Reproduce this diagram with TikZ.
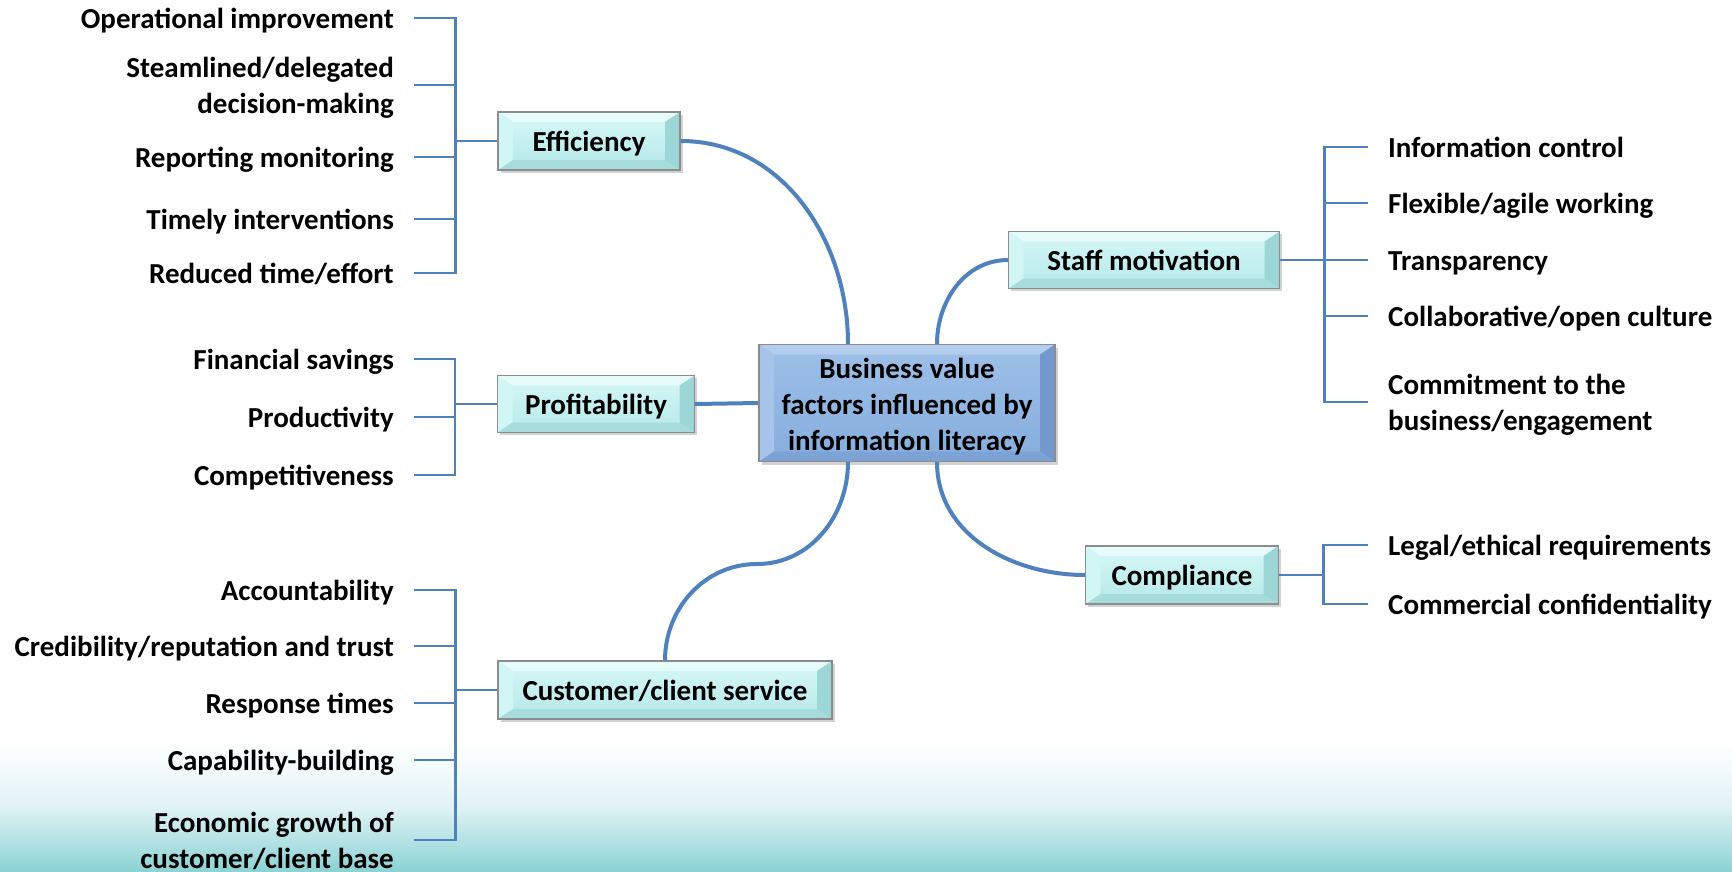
\documentclass[tikz,border=0pt]{standalone}
\usepackage{fontspec}
\setmainfont{Carlito}
\usetikzlibrary{shadows,calc}

\definecolor{linkblue}{HTML}{4F81BD}
\definecolor{bgteal}{HTML}{8CD3D4}
\definecolor{bgpale}{HTML}{E2F3F5}
\definecolor{boxedge}{HTML}{8C8C8C}
% light cyan boxes
\definecolor{cyTop}{HTML}{D8F8F8}
\definecolor{cyBot}{HTML}{B4E8E8}
\definecolor{cyFacetT}{HTML}{E6FBFB}
\definecolor{cyFacetL}{HTML}{D2F5F5}
\definecolor{cyFacetR}{HTML}{9CD6D6}
\definecolor{cyFacetB}{HTML}{A6DCDC}
% blue centre box
\definecolor{blTop}{HTML}{9EC0E8}
\definecolor{blBot}{HTML}{86ADDE}
\definecolor{blFacetT}{HTML}{B2CDEE}
\definecolor{blFacetL}{HTML}{A6C4EA}
\definecolor{blFacetR}{HTML}{7398CE}
\definecolor{blFacetB}{HTML}{7CA2D6}

\tikzset{
  bevel/.style n args={4}{%
    path picture={
      \fill[#1] (path picture bounding box.north west) -- (path picture bounding box.north east)
        -- ([shift={(-15pt,-10pt)}]path picture bounding box.north east)
        -- ([shift={(15pt,-10pt)}]path picture bounding box.north west) -- cycle;
      \fill[#2] (path picture bounding box.north west) -- (path picture bounding box.south west)
        -- ([shift={(15pt,10pt)}]path picture bounding box.south west)
        -- ([shift={(15pt,-10pt)}]path picture bounding box.north west) -- cycle;
      \fill[#3] (path picture bounding box.north east) -- (path picture bounding box.south east)
        -- ([shift={(-15pt,10pt)}]path picture bounding box.south east)
        -- ([shift={(-15pt,-10pt)}]path picture bounding box.north east) -- cycle;
      \fill[#4] (path picture bounding box.south west) -- (path picture bounding box.south east)
        -- ([shift={(-15pt,10pt)}]path picture bounding box.south east)
        -- ([shift={(15pt,10pt)}]path picture bounding box.south west) -- cycle;
    }
  },
  txt/.style={font=\fontsize{29}{36}\selectfont\bfseries, text height=22pt, text depth=1pt},
  twolines/.style={text height=58pt},
  cbox/.style={txt, draw=boxedge, line width=1.2pt, top color=cyTop, bottom color=cyBot,
    bevel={cyFacetT}{cyFacetL}{cyFacetR}{cyFacetB},
    drop shadow={opacity=0.35, shadow xshift=2.5pt, shadow yshift=-2.5pt}, inner sep=0pt},
  hubbox/.style={txt, text height=94pt, text depth=0pt, draw=boxedge, line width=1.2pt,
    top color=blTop, bottom color=blBot,
    bevel={blFacetT}{blFacetL}{blFacetR}{blFacetB}, align=center,
    drop shadow={opacity=0.35, shadow xshift=3pt, shadow yshift=-3pt}, inner sep=0pt},
  litem/.style={txt, inner sep=0pt, anchor=east, align=right},
  ritem/.style={txt, inner sep=0pt, anchor=west, align=left},
  conn/.style={linkblue, line width=4pt},
  brk/.style={linkblue, line width=2.8pt},
}

\begin{document}
\begin{tikzpicture}[x=1pt, y=-1pt]
\useasboundingbox (0,0) rectangle (1732,871);
% background with a teal fade along the bottom
\fill[white] (0,0) rectangle (1732,871);
\shade[top color=white, bottom color=bgpale] (0,740) rectangle (1732,806);
\shade[top color=bgpale, bottom color=bgteal] (0,805.5) rectangle (1732,871);

% central hub
\node[hubbox, minimum width=296pt, minimum height=117pt] (hub) at (907,403)
  {Business value\\factors influenced by\\information literacy};

% category boxes
\node[cbox, minimum width=182pt, minimum height=58pt] (eff)  at (589,141) {Efficiency};
\node[cbox, minimum width=197pt, minimum height=57pt] (prof) at (596,404) {Profitability};
\node[cbox, minimum width=334pt, minimum height=58pt] (cust) at (665,690) {Customer/client service};
\node[cbox, minimum width=271pt, minimum height=57pt] (staff) at (1144,260) {Staff motivation};
\node[cbox, minimum width=193pt, minimum height=58pt] (comp) at (1182,575) {Compliance};

% anchor points on the hub edges
\coordinate (hubTL) at ([xshift=-59pt]hub.north);
\coordinate (hubTR) at ([xshift=30pt]hub.north);
\coordinate (hubBL) at ([xshift=-59pt]hub.south);
\coordinate (hubBR) at ([xshift=30pt]hub.south);
\coordinate (custBend) at (757,564);

% curved links between hub and categories
\draw[conn] (eff.east) to[out=0, in=90] (hubTL);
\draw[conn] (hubTR) to[out=90, in=180] (staff.west);
\draw[conn] (prof.east) -- (hub.west);
\draw[conn] (hubBR) to[out=-90, in=180] (comp.west);
\draw[conn] (hubBL) to[out=-90, in=0] (custBend) to[out=180, in=90] (cust.north);

% Efficiency factors
\node[litem] (e1) at (394,18)  {Operational improvement};
\node[litem, twolines] (e2) at (394,85)  {Steamlined/delegated\\decision-making};
\node[litem] (e3) at (394,157) {Reporting monitoring};
\node[litem] (e4) at (394,219) {Timely interventions};
\node[litem] (e5) at (394,273) {Reduced time/effort};
\draw[brk] (eff.west) -- ++(-42,0) coordinate (ej);
\foreach \n in {e1,e2,e3,e4,e5} \draw[brk] ([xshift=20pt]\n.east) -| (ej);

% Profitability factors
\node[litem] (p1) at (394,359) {Financial savings};
\node[litem] (p2) at (394,417) {Productivity};
\node[litem] (p3) at (394,475) {Competitiveness};
\draw[brk] (prof.west) -- ++(-42,0) coordinate (pj);
\foreach \n in {p1,p2,p3} \draw[brk] ([xshift=20pt]\n.east) -| (pj);

% Customer/client service factors
\node[litem] (c1) at (394,590) {Accountability};
\node[litem] (c2) at (394,646) {Credibility/reputation and trust};
\node[litem] (c3) at (394,703) {Response times};
\node[litem] (c4) at (394,760) {Capability-building};
\node[litem, twolines] (c5) at (394,840) {Economic growth of\\customer/client base};
\draw[brk] (cust.west) -- ++(-42,0) coordinate (cj);
\foreach \n in {c1,c2,c3,c4,c5} \draw[brk] ([xshift=20pt]\n.east) -| (cj);

% Staff motivation factors
\node[ritem] (s1) at (1388,147) {Information control};
\node[ritem] (s2) at (1388,203) {Flexible/agile working};
\node[ritem] (s3) at (1388,260) {Transparency};
\node[ritem] (s4) at (1388,316) {Collaborative/open culture};
\node[ritem, twolines] (s5) at (1388,402) {Commitment to the\\business/engagement};
\draw[brk] (staff.east) -- ++(44,0) coordinate (sj);
\foreach \n in {s1,s2,s3,s4,s5} \draw[brk] ([xshift=-20pt]\n.west) -| (sj);

% Compliance factors
\node[ritem] (k1) at (1388,545) {Legal/ethical requirements};
\node[ritem] (k2) at (1388,604) {Commercial confidentiality};
\draw[brk] (comp.east) -- ++(44,0) coordinate (kj);
\foreach \n in {k1,k2} \draw[brk] ([xshift=-20pt]\n.west) -| (kj);
\end{tikzpicture}
\end{document}
